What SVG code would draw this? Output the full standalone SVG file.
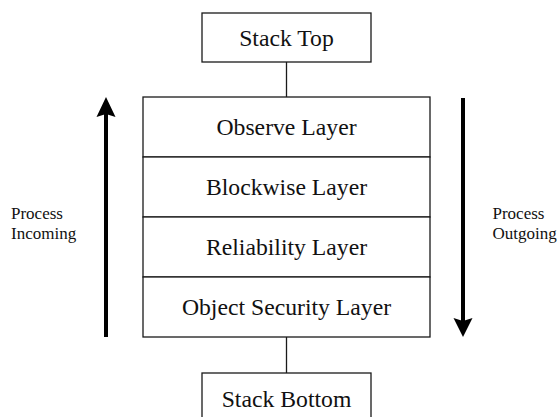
<svg xmlns="http://www.w3.org/2000/svg" width="560" height="417" viewBox="0 0 560 417">
  <style>
    .box { fill: #ffffff; stroke: #1a1a1a; stroke-width: 1.3; }
    .link { stroke: #1a1a1a; stroke-width: 1.3; fill: none; }
    .shaft { stroke: #000000; stroke-width: 4; fill: none; }
    .head { fill: #000000; stroke: none; }
    text { font-family: 'Liberation Serif', 'Times New Roman', serif; fill: #111111; }
    .big { font-size: 23.7px; text-anchor: middle; }
    .side { font-size: 17px; }
  </style>
  <rect width="560" height="417" fill="#ffffff"/>

  <!-- connectors between the end boxes and the layer stack -->
  <g id="connectors">
    <line class="link" x1="286.5" y1="62" x2="286.5" y2="97"/>
    <line class="link" x1="286.5" y1="337" x2="286.5" y2="373"/>
  </g>

  <g id="stack-top">
    <rect class="box" x="202" y="13" width="169" height="49"/>
    <text class="big" x="286.5" y="46">Stack Top</text>
  </g>

  <g id="observe-layer">
    <rect class="box" x="143" y="97" width="287" height="60"/>
    <text class="big" x="286.5" y="135">Observe Layer</text>
  </g>
  <g id="blockwise-layer">
    <rect class="box" x="143" y="157" width="287" height="60"/>
    <text class="big" x="286.5" y="195">Blockwise Layer</text>
  </g>
  <g id="reliability-layer">
    <rect class="box" x="143" y="217" width="287" height="60"/>
    <text class="big" x="286.5" y="255">Reliability Layer</text>
  </g>
  <g id="object-security-layer">
    <rect class="box" x="143" y="277" width="287" height="60"/>
    <text class="big" x="286.5" y="315">Object Security Layer</text>
  </g>

  <g id="stack-bottom">
    <rect class="box" x="202" y="373" width="169" height="52"/>
    <text class="big" x="286.5" y="407">Stack Bottom</text>
  </g>

  <!-- direction arrows -->
  <g id="incoming">
    <line class="shaft" x1="106" y1="337" x2="106" y2="112"/>
    <polygon class="head" points="106,97 115.5,117 106,114 96.5,117"/>
    <text class="side" x="11" y="219">Process</text>
    <text class="side" x="11" y="238.5">Incoming</text>
  </g>
  <g id="outgoing">
    <line class="shaft" x1="463" y1="98" x2="463" y2="322"/>
    <polygon class="head" points="463,337 472.5,318 463,321 453.5,318"/>
    <text class="side" x="492.5" y="219">Process</text>
    <text class="side" x="492.5" y="238.5">Outgoing</text>
  </g>
</svg>
